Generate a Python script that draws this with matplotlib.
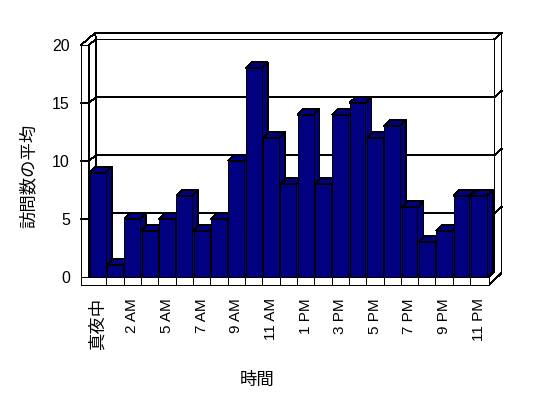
import matplotlib
matplotlib.use('Agg')
import matplotlib.pyplot as plt
from matplotlib.patches import Polygon

hours = ['真夜中', '1 AM', '2 AM', '3 AM', '5 AM', '6 AM', '7 AM', '8 AM',
         '9 AM', '10 AM', '11 AM', '12 PM', '1 PM', '2 PM', '3 PM', '4 PM',
         '5 PM', '6 PM', '7 PM', '8 PM', '9 PM', '10 PM', '11 PM']
visits = [9, 1, 5, 4, 5, 7, 4, 5, 10, 18, 12, 8, 14, 8, 14, 15, 12, 13,
          6, 3, 4, 7, 7]
yticks = [0, 5, 10, 15, 20]

plt.rcParams['font.family'] = ['Liberation Sans', 'Noto Sans CJK JP']
plt.rcParams['lines.antialiased'] = False
plt.rcParams['patch.antialiased'] = False

navy = '#000080'
lw = 0.6
n = len(visits)
ymax = yticks[-1]

# oblique depth of the 3-D box, in data units
dx, dy = 0.405, 0.517      # front -> back wall
bw, bdx = 0.92, 0.35       # bar front width, bar depth
wall, floor_h = 0.46, 0.69  # wall / floor thickness
x0, x1 = -0.5, n - 0.5

fig = plt.figure(figsize=(5.48, 3.98), dpi=100)
fig.set_facecolor('w')
ax = fig.add_axes([81 / 548, 113 / 398, 420.5 / 548, 252 / 398])
ax.set_xlim(x0 - wall, x1 + 2 * dx)
ax.set_ylim(-floor_h, ymax + 2 * dy)
for s in ax.spines.values():
    s.set_visible(False)


def line(xs, ys, z=1):
    ax.plot(xs, ys, color='k', lw=lw, zorder=z, clip_on=False)


def poly(pts, fc, z):
    ax.add_patch(Polygon(pts, closed=True, facecolor=fc, edgecolor='k',
                         lw=lw, zorder=z, clip_on=False))


# back wall (inner face + thickness band)
poly([(x0 + dx, ymax + dy), (x0 + 2 * dx - wall, ymax + 2 * dy),
      (x1 + 2 * dx, ymax + 2 * dy), (x1 + 2 * dx, -floor_h + 2 * dy),
      (x1 + 0.1, -floor_h), (x1 + 0.1, 0), (x1 + dx, dy)], 'w', 0.5)
poly([(x0 + dx, dy), (x1 + dx, dy), (x1 + dx, ymax + dy),
      (x0 + dx, ymax + dy)], 'w', 0.6)
line([x1 + dx, x1 + 2 * dx], [ymax + dy, ymax + 2 * dy])
# left wall
poly([(x0 - wall, -floor_h), (x0 - wall, ymax), (x0, ymax),
      (x0, -floor_h)], 'w', 0.7)
poly([(x0, 0), (x0, ymax), (x0 + dx, ymax + dy), (x0 + dx, dy)], 'w', 0.7)
line([x0 - wall, x0 - wall + 2 * dx], [ymax, ymax + 2 * dy])
# floor front face with category ticks
poly([(x0 - wall, -floor_h), (x1 + 0.1, -floor_h), (x1 + 0.1, 0),
      (x0 - wall, 0)], 'w', 0.8)
poly([(x0, 0), (x1 + 0.1, 0), (x1 + dx, dy), (x0 + dx, dy)], 'w', 0.8)
for i in range(n - 1):
    line([i + 0.5, i + 0.5], [-floor_h, 0], z=0.9)

# gridlines across walls
for v in yticks[1:-1]:
    line([x0 - wall, x0, x0 + dx, x1 + dx, x1 + 2 * dx],
         [v, v, v + dy, v + dy, v + 2 * dy], z=0.9)

# bars: front faces from ax.bar, top and side faces as polygons
bars = ax.bar(range(n), visits, width=bw, color=navy, edgecolor='k',
              lw=lw, zorder=3)
for i, (b, v) in enumerate(zip(bars, visits)):
    l, r = i - bw / 2, i + bw / 2
    b.set_zorder(3 + 2 * i)
    poly([(r, 0), (r + bdx, dy), (r + bdx, v + dy), (r, v)], navy, 2 + 2 * i)
    poly([(l, v), (r, v), (r + bdx, v + dy), (l + bdx, v + dy)], navy,
         2 + 2 * i)

ax.set_yticks(yticks)
ax.set_yticklabels([str(t) for t in yticks], fontsize=11.5)
ax.set_xticks(range(0, n, 2))
ax.set_xticklabels(hours[::2], rotation=90, va='top', ha='center',
                   fontsize=11)
ax.get_xticklabels()[0].set_fontsize(12.5)
ax.tick_params(axis='y', length=0, pad=8)
ax.tick_params(axis='x', length=0, pad=9.5)

ax.set_ylabel('訪問数の平均', fontsize=12.5)
ax.yaxis.set_label_coords(-0.105, 0.433)
ax.set_xlabel('時間', fontsize=12.5)
ax.xaxis.set_label_coords(0.4186, -0.345)

fig.savefig('out.png', dpi=100, facecolor='w')
